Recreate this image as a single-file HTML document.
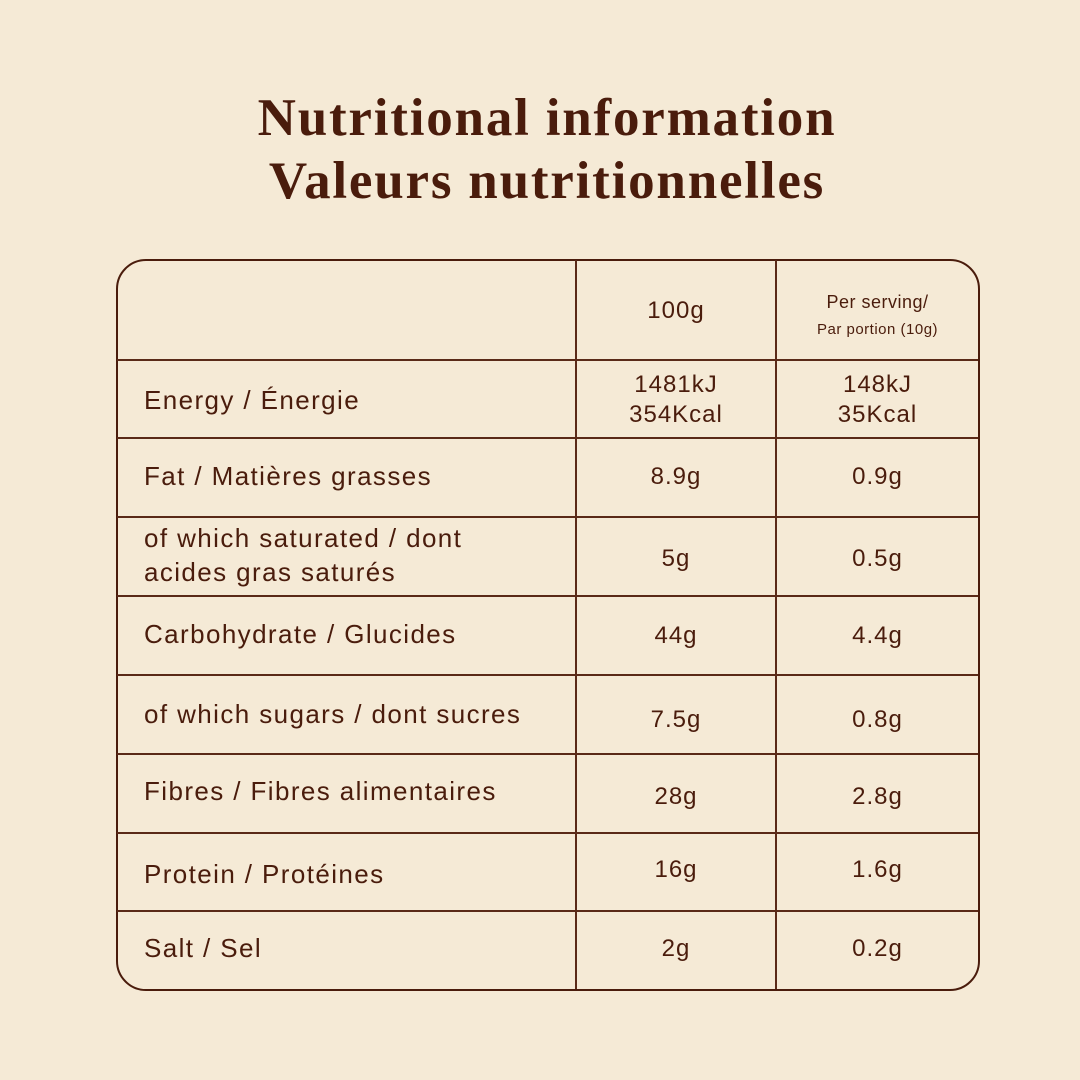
<!DOCTYPE html>
<html><head><meta charset="utf-8"><style>
html,body{margin:0;padding:0;}
body{width:1080px;height:1080px;background:#f5ead6;position:relative;overflow:hidden;font-family:"Liberation Sans",sans-serif;color:#4a1c0c;}
.title{position:absolute;left:0;width:1094px;text-align:center;font-family:"Liberation Serif",serif;font-size:53px;font-weight:bold;letter-spacing:1.8px;color:#4a1c0c;line-height:1;}
.tbl{position:absolute;left:116px;top:259px;width:860px;height:728px;border:2.5px solid #4a1c0c;border-radius:30px;}
.h{position:absolute;left:117px;width:861px;height:1.5px;background:#5a2a18;}
.v{position:absolute;top:260px;height:729px;width:1.5px;background:#5a2a18;}
.t{position:absolute;font-size:26px;line-height:34px;letter-spacing:1.4px;}
.c{position:absolute;text-align:center;font-size:24px;line-height:30px;letter-spacing:1px;}
</style></head><body>
<div class="title" style="top:92px">Nutritional information</div>
<div class="title" style="top:155px">Valeurs nutritionnelles</div>
<div class="tbl"></div>
<div class="v" style="left:575px"></div>
<div class="v" style="left:775px"></div>
<div class="h" style="top:359px"></div>
<div class="h" style="top:437px"></div>
<div class="h" style="top:516px"></div>
<div class="h" style="top:595px"></div>
<div class="h" style="top:674px"></div>
<div class="h" style="top:753px"></div>
<div class="h" style="top:832px"></div>
<div class="h" style="top:910px"></div>

<div class="c" style="left:576px;width:200px;top:296px">100g</div>
<div class="c" style="left:776px;width:203px;top:289px;font-size:18px;line-height:26px;letter-spacing:0.5px">Per serving/<br><span style="font-size:15px">Par portion (10g)</span></div>

<div class="t" style="left:144px;top:383px">Energy / Énergie</div>
<div class="c" style="left:576px;width:200px;top:370px">1481kJ<br>354Kcal</div>
<div class="c" style="left:776px;width:203px;top:370px">148kJ<br>35Kcal</div>

<div class="t" style="left:144px;top:459px">Fat / Matières grasses</div>
<div class="c" style="left:576px;width:200px;top:462px">8.9g</div>
<div class="c" style="left:776px;width:203px;top:462px">0.9g</div>

<div class="t" style="left:144px;top:521px">of which saturated / dont<br>acides gras saturés</div>
<div class="c" style="left:576px;width:200px;top:544px">5g</div>
<div class="c" style="left:776px;width:203px;top:544px">0.5g</div>

<div class="t" style="left:144px;top:617px">Carbohydrate / Glucides</div>
<div class="c" style="left:576px;width:200px;top:621px">44g</div>
<div class="c" style="left:776px;width:203px;top:621px">4.4g</div>

<div class="t" style="left:144px;top:697px">of which sugars / dont sucres</div>
<div class="c" style="left:576px;width:200px;top:705px">7.5g</div>
<div class="c" style="left:776px;width:203px;top:705px">0.8g</div>

<div class="t" style="left:144px;top:774px">Fibres / Fibres alimentaires</div>
<div class="c" style="left:576px;width:200px;top:782px">28g</div>
<div class="c" style="left:776px;width:203px;top:782px">2.8g</div>

<div class="t" style="left:144px;top:857px">Protein / Protéines</div>
<div class="c" style="left:576px;width:200px;top:855px">16g</div>
<div class="c" style="left:776px;width:203px;top:855px">1.6g</div>

<div class="t" style="left:144px;top:931px">Salt / Sel</div>
<div class="c" style="left:576px;width:200px;top:934px">2g</div>
<div class="c" style="left:776px;width:203px;top:934px">0.2g</div>
</body></html>
